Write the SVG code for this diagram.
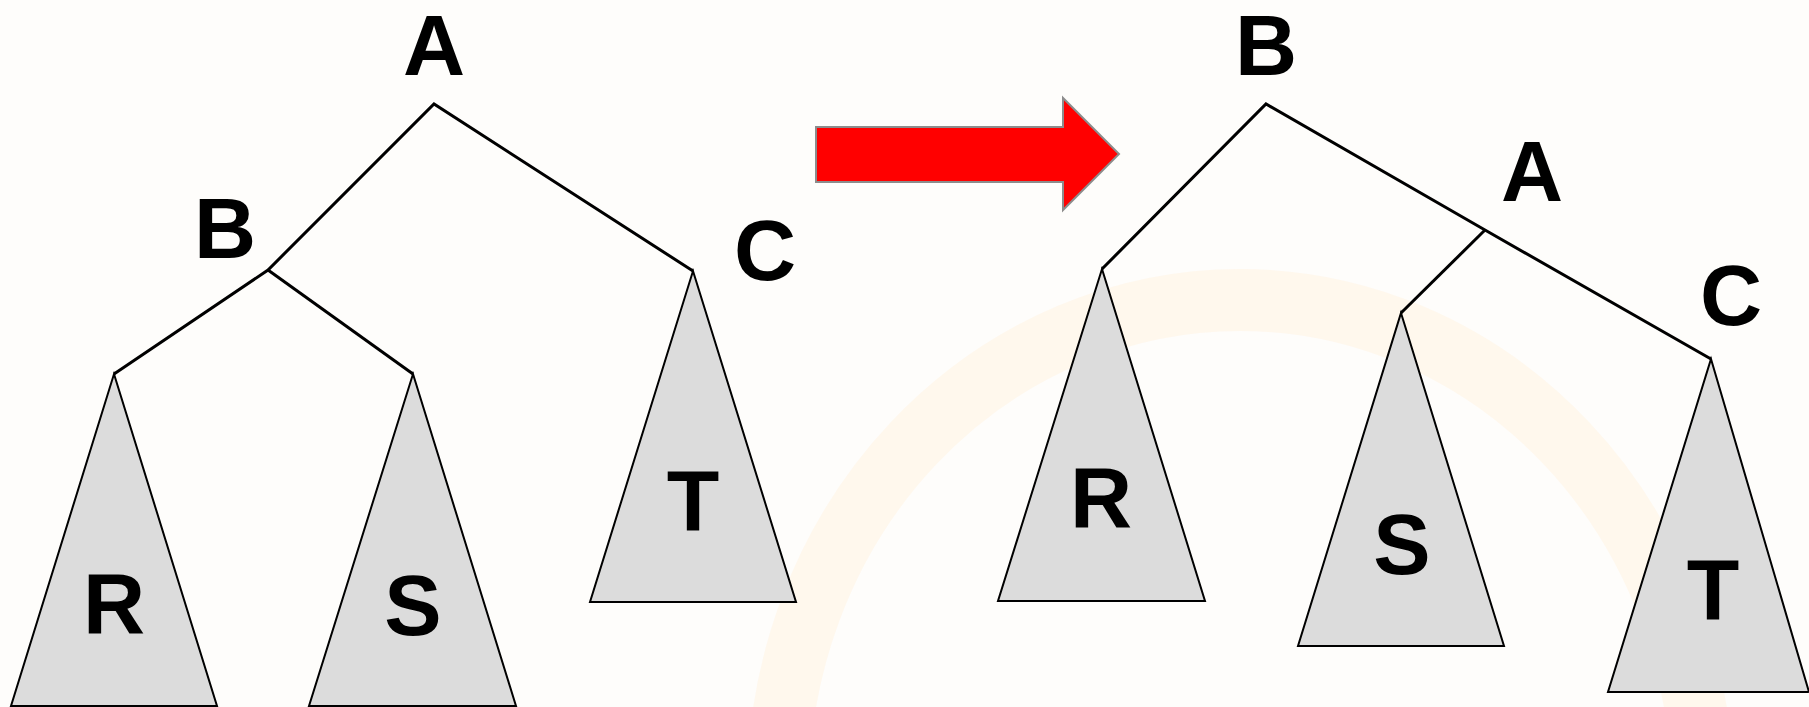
<svg xmlns="http://www.w3.org/2000/svg" width="1809" height="707" viewBox="0 0 1809 707">
<style>
.lbl{font-family:"Liberation Sans",Arial,sans-serif;font-weight:bold;font-size:86px;fill:#000;text-anchor:middle}
.edge{stroke:#000;stroke-width:3;fill:none;stroke-linejoin:miter}
.tri{fill:#dcdcdc;stroke:#000;stroke-width:2}
</style>
<rect width="1809" height="707" fill="#fefdfb"/>
<ellipse cx="1240" cy="790" rx="462" ry="490" fill="none" stroke="#fff6e8" stroke-width="62" opacity="0.75"/>
<g id="arrow">
<polygon points="816,127 1063,127 1063,98 1119,154 1063,210 1063,182 816,182" fill="#ff0000" stroke="#8c8c8c" stroke-width="2"/>
</g>
<g id="connectors">
<polyline class="edge" points="114,374 268,270 434,104 693,271"/>
<polyline class="edge" points="268,270 413,374"/>
<polyline class="edge" points="1102,269 1266,104 1485,230 1711,359"/>
<polyline class="edge" points="1485,230 1401,313"/>
</g>
<g id="left-A"><text class="lbl" x="434" y="75">A</text></g>
<g id="left-B"><text class="lbl" x="225" y="258">B</text></g>
<g id="left-C"><text class="lbl" x="765" y="280">C</text></g>
<g id="left-R"><polygon class="tri" points="114,374 217,706 11,706"/><text class="lbl" x="114" y="633">R</text></g>
<g id="left-S"><polygon class="tri" points="413,374 516,706 309,706"/><text class="lbl" x="413" y="635">S</text></g>
<g id="left-T"><polygon class="tri" points="693,271 796,602 590,602"/><text class="lbl" x="693" y="530">T</text></g>
<g id="right-B"><text class="lbl" x="1266" y="75">B</text></g>
<g id="right-A"><text class="lbl" x="1532" y="201">A</text></g>
<g id="right-C"><text class="lbl" x="1731" y="325">C</text></g>
<g id="right-R"><polygon class="tri" points="1102,269 1205,601 998,601"/><text class="lbl" x="1101" y="527">R</text></g>
<g id="right-S"><polygon class="tri" points="1401,313 1504,646 1298,646"/><text class="lbl" x="1402" y="574">S</text></g>
<g id="right-T"><polygon class="tri" points="1711,359 1809,692 1608,692"/><text class="lbl" x="1713" y="619">T</text></g>
</svg>
